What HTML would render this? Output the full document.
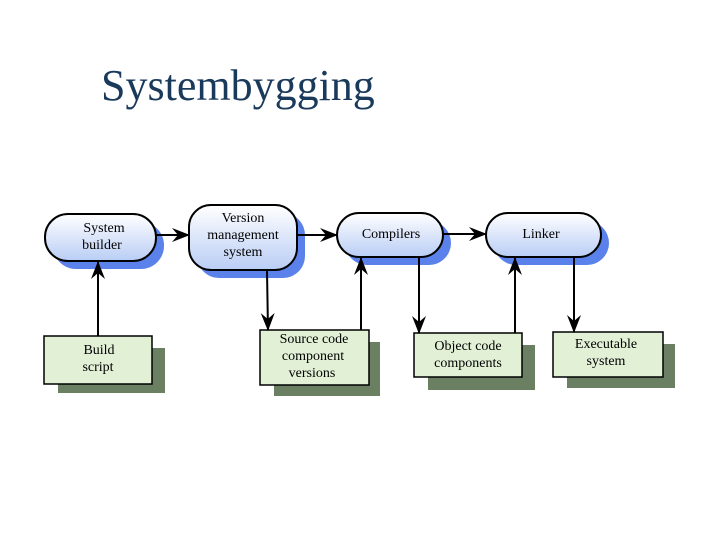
<!DOCTYPE html>
<html><head><style>
body{margin:0;width:720px;height:540px;background:#fff;overflow:hidden}
</style></head><body>
<svg width="720" height="540" xmlns="http://www.w3.org/2000/svg" style="position:absolute;left:0;top:0">
<defs>
<linearGradient id="g" x1="0" y1="0" x2="0" y2="1"><stop offset="0" stop-color="#ffffff"/><stop offset="1" stop-color="#b9cdf5"/></linearGradient>
<marker id="a" markerWidth="18" markerHeight="14" refX="17" refY="7" orient="auto" markerUnits="userSpaceOnUse"><path d="M0,0 L18,7 L0,14 L6,7 Z" fill="#000"/></marker>
</defs>
<text x="101" y="100" font-family="Liberation Serif, serif" font-size="44" fill="#1a3a5c">Systembygging</text>
<g fill="#5b82ea">
<rect x="53" y="222" width="111" height="47" rx="23"/>
<rect x="197" y="213" width="108" height="65" rx="22"/>
<rect x="345" y="221" width="106" height="44" rx="22"/>
<rect x="494" y="221" width="115" height="44" rx="22"/>
</g>
<g fill="url(#g)" stroke="#000" stroke-width="2">
<rect x="45" y="214" width="111" height="47" rx="23"/>
<rect x="189" y="205" width="108" height="65" rx="22"/>
<rect x="337" y="213" width="106" height="44" rx="22"/>
<rect x="486" y="213" width="115" height="44" rx="22"/>
</g>
<g fill="#6b7f63">
<rect x="58" y="348" width="107" height="45"/>
<rect x="274" y="342" width="106" height="54"/>
<rect x="428" y="345" width="107" height="45"/>
<rect x="567" y="344" width="108" height="44"/>
</g>
<g fill="#e2f0d6" stroke="#000" stroke-width="1.5">
<rect x="44" y="336" width="108" height="48"/>
<rect x="260" y="330" width="109" height="55"/>
<rect x="414" y="333" width="108" height="44"/>
<rect x="553" y="332" width="110" height="45"/>
</g>
<g stroke="#000" stroke-width="2" marker-end="url(#a)">
<line x1="156" y1="235" x2="189" y2="235"/>
<line x1="297" y1="235" x2="337" y2="235"/>
<line x1="443" y1="234" x2="486" y2="234"/>
<line x1="98" y1="336" x2="98" y2="262"/>
<line x1="267" y1="271" x2="268" y2="330"/>
<line x1="361" y1="330" x2="361" y2="258"/>
<line x1="419" y1="258" x2="419" y2="333"/>
<line x1="515" y1="333" x2="515" y2="258"/>
<line x1="574" y1="258" x2="574" y2="332"/>
</g>
<g font-family="Liberation Serif, serif" font-size="14" fill="#000" text-anchor="middle">
<text x="104" y="232">System</text><text x="102" y="249">builder</text>
<text x="243" y="222">Version</text><text x="243" y="239">management</text><text x="243" y="256">system</text>
<text x="391" y="238">Compilers</text>
<text x="541" y="238">Linker</text>
<text x="99" y="354">Build</text><text x="98" y="371">script</text>
<text x="314" y="343">Source code</text><text x="313" y="360">component</text><text x="312" y="377">versions</text>
<text x="468" y="350">Object code</text><text x="468" y="367">components</text>
<text x="606" y="348">Executable</text><text x="606" y="365">system</text>
</g>
</svg>
</body></html>
